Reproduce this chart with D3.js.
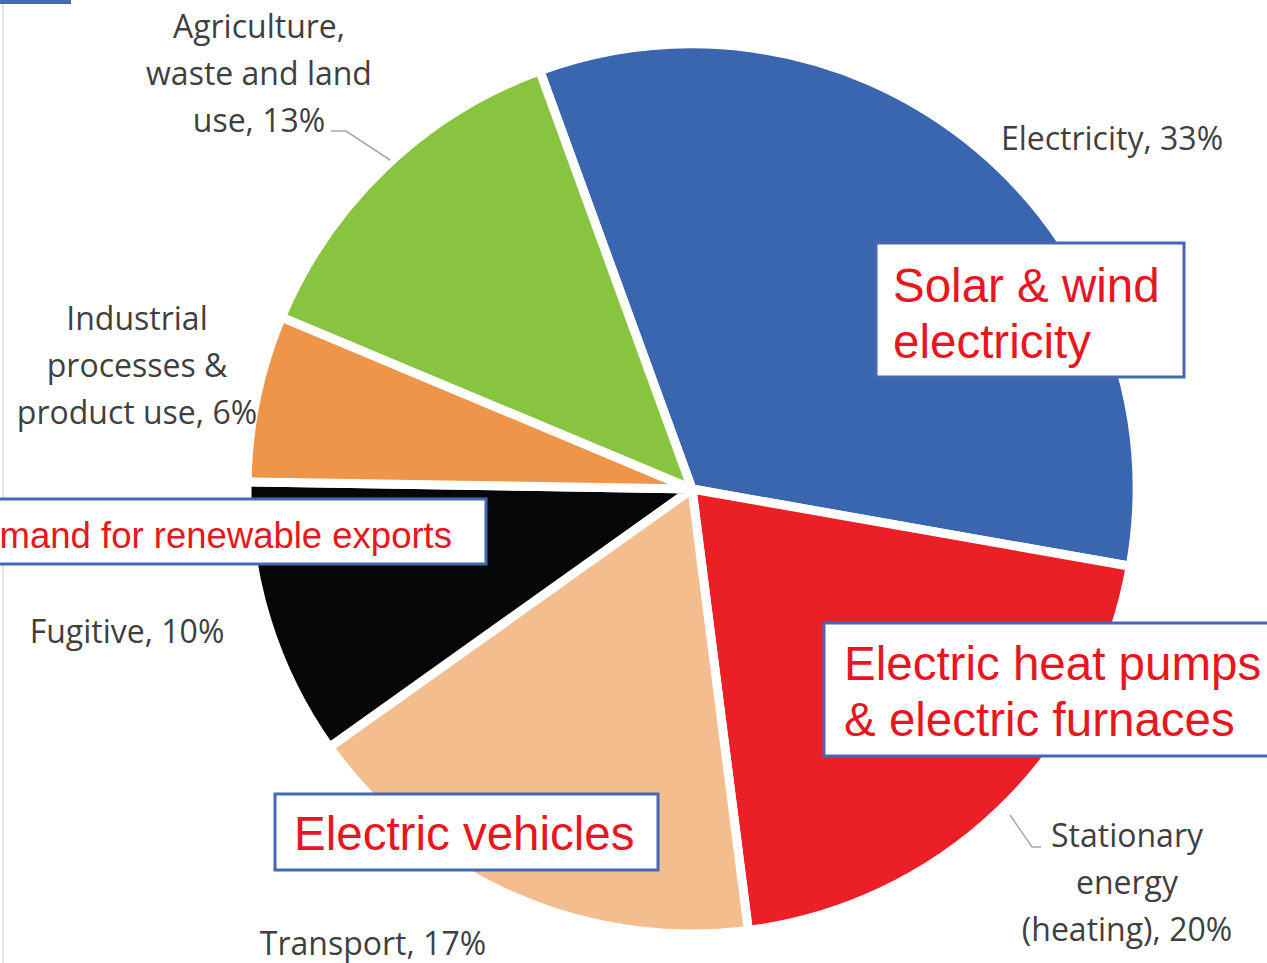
<!DOCTYPE html>
<html>
<head>
<meta charset="utf-8">
<script src="https://cdn.jsdelivr.net/npm/d3@7"></script>
<style>
  html, body { margin: 0; padding: 0; background: #fff; overflow: hidden; }
  .lbl { font-family: "Open Sans", sans-serif; fill: #3f3f3f; }
  .note { font-family: "Liberation Sans", Arial, sans-serif; fill: #e8161e; }
</style>
</head>
<body>
<div class="chart"></div>
<script>
var W = 1267, H = 963;

// sector shares (%)
var sectors = ["Electricity", "Stationary energy (heating)", "Transport", "Fugitive",
  "Industrial processes & product use", "Agriculture, waste and land use"];
var shares = [33, 20, 17, 10, 6, 13];
var colors = ["#3a66b0", "#eb1f26", "#f3bd8d", "#050708", "#ef9549", "#88c440"];

// label lines as printed next to the pie
var labelLines = [
  ["Electricity, 33%"],
  ["Stationary", "energy", "(heating), 20%"],
  ["Transport, 17%"],
  ["Fugitive, 10%"],
  ["Industrial", "processes &", "product use, 6%"],
  ["Agriculture,", "waste and land", "use, 13%"]
];

// call-out boxes
var notes = [
  ["Solar & wind", "electricity"],
  ["Electric heat pumps", "& electric furnaces"],
  ["Electric vehicles"],
  ["Demand for renewable exports"]
];

var cx = 692, cy = 489, R = 445;

var svg = d3.select('.chart').append('svg')
  .attr('width', W).attr('height', H);

// frame remnants
svg.append('line').attr('x1', 3).attr('x2', 3).attr('y1', 0).attr('y2', H)
  .attr('stroke', '#d9d9d9').attr('stroke-width', 1.5);
svg.append('rect').attr('x', 0).attr('y', 0).attr('width', 71).attr('height', 4)
  .attr('fill', '#4468b4');

var start = -20 * Math.PI / 180;
var pie = d3.pie().sort(null).startAngle(start).endAngle(start + 2 * Math.PI);
var arc = d3.arc().innerRadius(0).outerRadius(R);

var g = svg.append('g').attr('transform', 'translate(' + cx + ',' + cy + ')');
g.selectAll('path')
  .data(pie(shares))
  .enter().append('path')
  .attr('d', arc)
  .attr('fill', (d, i) => colors[i])
  .attr('stroke', '#fff')
  .attr('stroke-width', 9)
  .attr('stroke-linejoin', 'round');

// leader lines
var leader = [
  [[331, 131], [346, 131], [390, 160]],
  [[1010, 815], [1032, 847], [1041, 847]]
];
svg.selectAll('.leader').data(leader).enter().append('path')
  .attr('class', 'leader')
  .attr('d', d3.line())
  .attr('fill', 'none').attr('stroke', '#a6a6a6').attr('stroke-width', 1.5);

// where each label block sits: x, first baseline
var labelPos = [
  [1112, 150],
  [1127, 847],
  [373, 955],
  [127, 643],
  [137, 330],
  [259, 38]
];
var lineH = 47;
labelLines.forEach((lines, i) => {
  var p = labelPos[i];
  var t = svg.append('text').attr('class', 'lbl')
    .attr('font-size', 32).attr('text-anchor', 'middle');
  lines.forEach((s, j) => {
    t.append('tspan').attr('x', p[0]).attr('y', p[1] + j * lineH).text(s);
  });
});

// boxes: x, y, w, h, text x, first baseline, font size
var boxPos = [
  [876, 243, 308, 134, 893, 302, 47.5],
  [824, 623, 450, 133, 844, 680, 47.5],
  [275, 794, 383, 76, 294, 850, 47.5],
  [-10, 499, 496, 65, 452, 548, 36.5]
];
notes.forEach((lines, i) => {
  var b = boxPos[i];
  svg.append('rect').attr('x', b[0]).attr('y', b[1]).attr('width', b[2]).attr('height', b[3])
    .attr('fill', '#fff').attr('stroke', '#4468b4').attr('stroke-width', 3);
  var t = svg.append('text').attr('class', 'note').attr('font-size', b[6])
    .attr('text-anchor', i === 3 ? 'end' : 'start');
  lines.forEach((s, j) => {
    t.append('tspan').attr('x', b[4]).attr('y', b[5] + j * 56).text(s);
  });
});
</script>
</body>
</html>
